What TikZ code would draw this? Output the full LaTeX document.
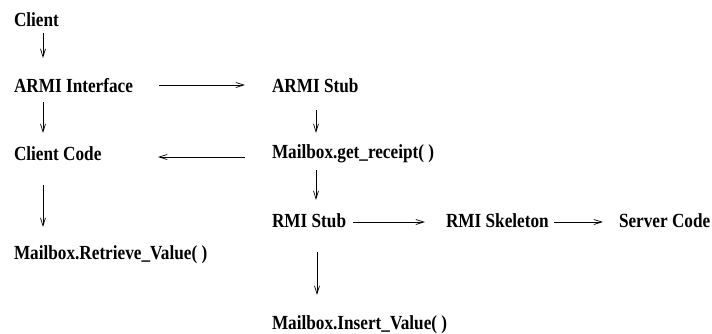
\documentclass[tikz,border=0pt]{standalone}
\usepackage{fontspec}
\usepackage{graphicx}
\setmainfont{Liberation Serif}
\usetikzlibrary{arrows.meta,calc}
% condensed bold labels
\newcommand{\cnd}[1]{\scalebox{0.86}[1]{#1}}
\tikzset{
  lbl/.style={anchor=base west, inner sep=0pt, outer sep=0pt,
    font=\fontsize{20}{24}\selectfont\bfseries},
  flow/.style={draw=black, line width=0.7pt,
    -{Straight Barb[length=8pt,width=5pt]}}
}
\begin{document}
\begin{tikzpicture}[x=1pt, y=-1pt]
\useasboundingbox (0,0) rectangle (712,333);
% left column
\node[lbl] (client) at (14,26) {\cnd{Client}};
\node[lbl] (armiif) at (14,92) {\cnd{ARMI Interface}};
\node[lbl] (clcode) at (14,160) {\cnd{Client Code}};
\node[lbl] (retrv) at (14,259) {\cnd{Mailbox.Retrieve\_Value( )}};
% middle column
\node[lbl] (armistub) at (272,92) {\cnd{ARMI Stub}};
\node[lbl] (getrcpt) at (272,158) {\cnd{Mailbox.get\_receipt( )}};
\node[lbl] (rmistub) at (272,227) {\cnd{RMI Stub}};
\node[lbl] (insval) at (272,329) {\cnd{Mailbox.Insert\_Value( )}};
% server side
\node[lbl] (rmiskel) at (446,227) {\cnd{RMI Skeleton}};
\node[lbl] (srvcode) at (619,227) {\cnd{Server Code}};
% connectors
\draw[flow] ($(client.base west)+(29,7)$) -- ($(armiif.base west)+(29,-34)$);
\draw[flow] ($(armiif.base west)+(29,10)$) -- ($(clcode.base west)+(29,-27)$);
\draw[flow] ($(clcode.base west)+(29,25)$) -- ($(retrv.base west)+(29,-32)$);
\draw[flow] ($(armiif.base west)+(145,-7)$) -- ($(armistub.base west)+(-27,-7)$);
\draw[flow] ($(armistub.base west)+(44,18)$) -- ($(getrcpt.base west)+(44,-25)$);
\draw[flow] ($(getrcpt.base west)+(-27,-1)$) -- ($(clcode.base west)+(144,-3)$);
\draw[flow] ($(getrcpt.base west)+(44,12)$) -- ($(rmistub.base west)+(44,-27)$);
\draw[flow] ($(rmistub.base west)+(45,25)$) -- ($(insval.base west)+(45,-34)$);
\draw[flow] ($(rmistub.base west)+(81,-5)$) -- ($(rmiskel.base west)+(-21,-5)$);
\draw[flow] ($(rmiskel.base west)+(108,-5)$) -- ($(srvcode.base west)+(-16,-5)$);
\end{tikzpicture}
\end{document}
